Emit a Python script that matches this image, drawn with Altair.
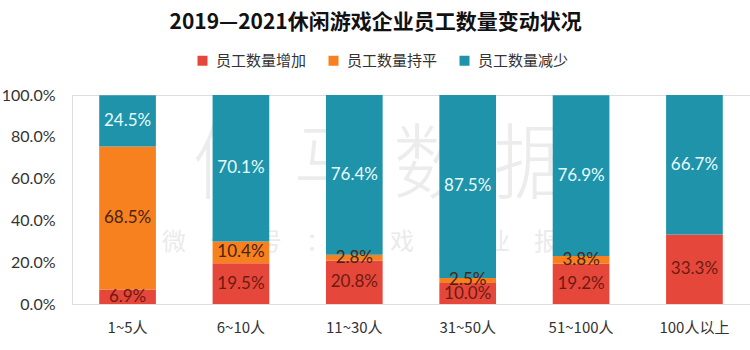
import altair as alt
import pandas as pd

categories = ["1~5人", "6~10人", "11~30人", "31~50人", "51~100人", "100人以上"]
series = ["员工数量增加", "员工数量持平", "员工数量减少"]
increase = [6.9, 19.5, 20.8, 10.0, 19.2, 33.3]
flat = [68.5, 10.4, 2.8, 2.5, 3.8, 0.0]
decrease = [24.5, 70.1, 76.4, 87.5, 76.9, 66.7]

bar_colors = ["#E5483A", "#F7801F", "#1E93AA"]
label_colors = {"员工数量增加": "#6E1A12", "员工数量持平": "#4A2410", "员工数量减少": "#E8FBFF"}

rows = []
for i, c in enumerate(categories):
    for j, (s, vals) in enumerate(zip(series, [increase, flat, decrease])):
        rows.append({"cat": c, "series": s, "idx": j, "value": vals[i],
                     "lc": label_colors[s]})
df = pd.DataFrame(rows)

CJK = "Noto Sans CJK SC"
NUM = "Lato"

base = alt.Chart(df)

bars = base.mark_bar().encode(
    x=alt.X("cat:N", sort=categories, title=None,
            scale=alt.Scale(paddingInner=0.5, paddingOuter=0.24),
            axis=alt.Axis(labelAngle=0, domain=False, ticks=False, labelPadding=16,
                          labelFontSize=15, labelColor="#333333", labelFont=CJK)),
    y=alt.Y("value:Q", stack="zero", title=None,
            scale=alt.Scale(domain=[0, 100], nice=False),
            axis=alt.Axis(values=[0, 20, 40, 60, 80, 100], grid=False, domain=False,
                          ticks=False, labelPadding=17, labelFontSize=16,
                          labelColor="#333333", labelFont=NUM,
                          labelExpr="format(datum.value, '.1f') + '%'")),
    color=alt.Color("series:N", sort=series,
                    scale=alt.Scale(domain=series, range=bar_colors),
                    legend=alt.Legend(title=None, orient="none", direction="horizontal",
                                      legendX=123, legendY=-42, symbolType="square",
                                      symbolSize=100, symbolStrokeWidth=0,
                                      labelFontSize=15, labelFont=CJK,
                                      labelColor="#333333", columnPadding=19,
                                      labelOffset=6)),
    order=alt.Order("idx:Q"),
)

labels = base.transform_stack(
    stack="value", groupby=["cat"], as_=["v0", "v1"],
    sort=[alt.SortField("idx", order="ascending")]
).transform_calculate(
    mid="(datum.v0 + datum.v1) / 2",
    txt="format(datum.value, '.1f') + '%'"
).transform_filter("datum.value > 0").mark_text(
    fontSize=17, font=NUM
).encode(
    x=alt.X("cat:N", sort=categories),
    y=alt.Y("mid:Q"),
    text="txt:N",
    color=alt.Color("lc:N", scale=None),
)

wm1 = alt.Chart(pd.DataFrame({"t": ["伽 马 数 据"]})).mark_text(
    fontSize=82, font=CJK, color="#999999", opacity=0.18, fontWeight=300
).encode(text="t:N", x=alt.value(312), y=alt.value(72))

wm2 = alt.Chart(pd.DataFrame({"t": ["微　信　号　：　游　戏　产　业　报　告"]})).mark_text(
    fontSize=24, font=CJK, color="#999999", opacity=0.2
).encode(text="t:N", x=alt.value(312), y=alt.value(148))

chart = alt.layer(wm1, wm2, bars, labels).properties(
    width=678, height=209,
    title=alt.TitleParams("2019—2021休闲游戏企业员工数量变动状况", font=CJK,
                          fontSize=21, fontWeight="bold", color="#111111",
                          anchor="middle", frame="bounds", offset=20),
    autosize=alt.AutoSizeParams(type="none"),
    padding={"left": 72, "top": 95, "right": 0, "bottom": 46},
).configure_view(stroke=None).configure(background="white")

chart.save("out.html", embed_options={"renderer": "svg", "actions": False})
